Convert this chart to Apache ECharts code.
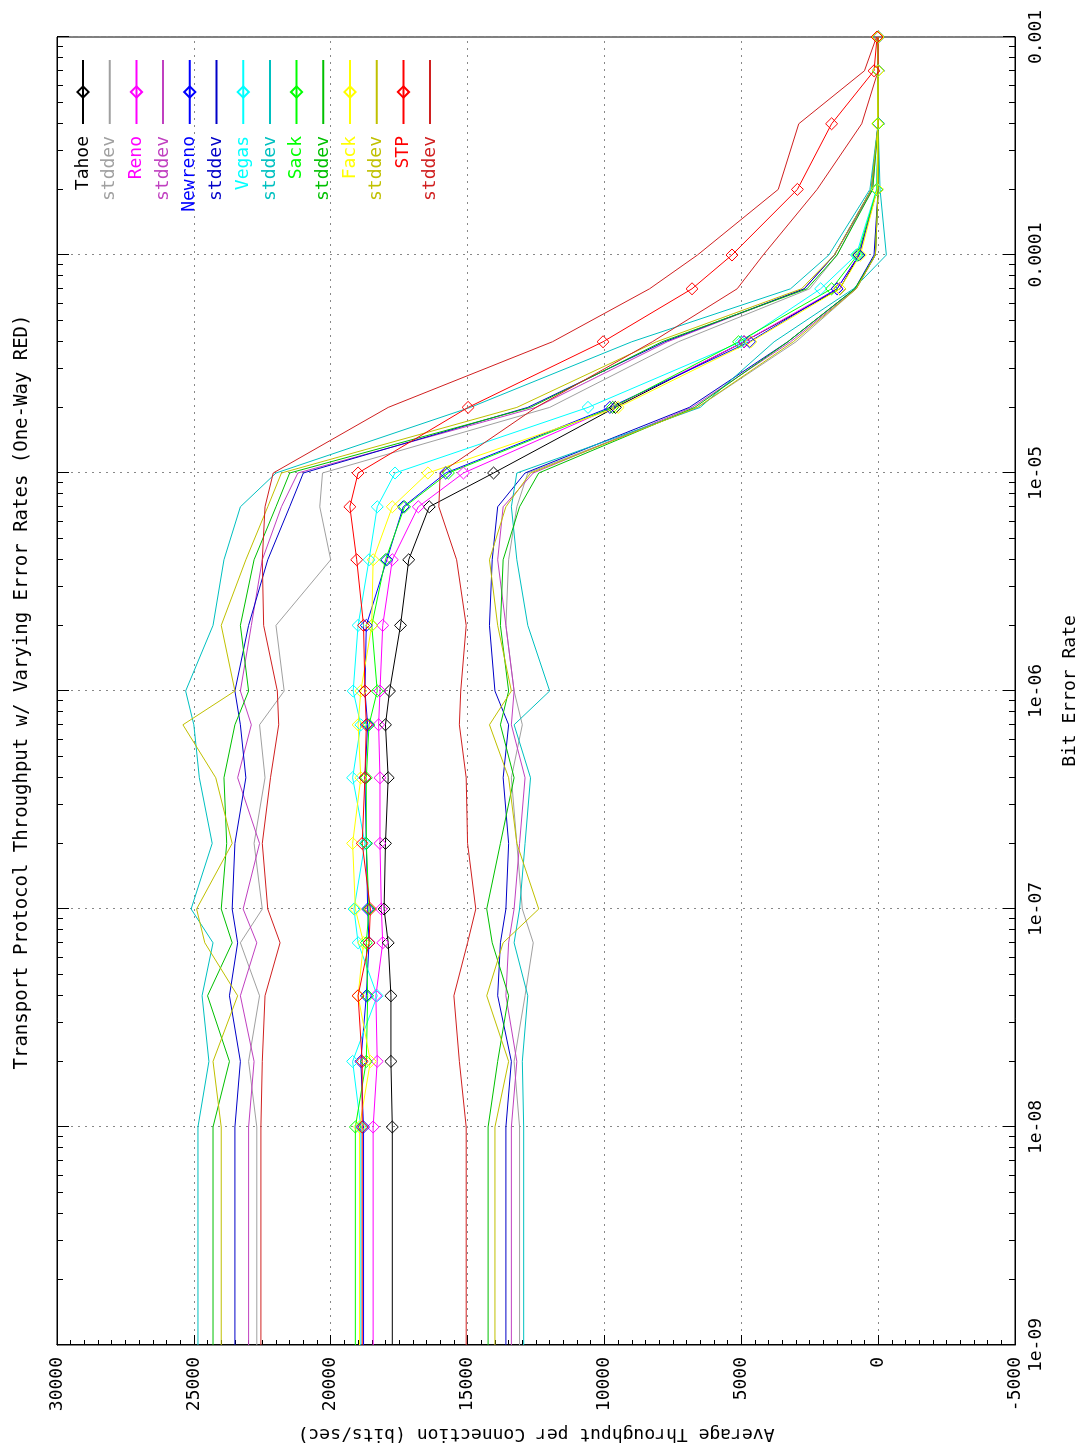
<!DOCTYPE html>
<html><head><meta charset="utf-8">
<script src="https://cdn.jsdelivr.net/npm/echarts@6/dist/echarts.min.js"></script>
<style>
html,body{margin:0;padding:0;background:#fff;width:1088px;height:1452px;overflow:hidden;}
#chart{position:absolute;left:0;top:0;width:1452px;height:1088px;transform-origin:0 0;transform:translate(0,1452px) rotate(-90deg);background:#fff;}
</style></head><body><div id="chart"></div>
<script>
// Bit error rates (x values)
const ber = [1e-9, 1e-8, 2e-8, 4e-8, 7e-8, 1e-7, 2e-7, 4e-7, 7e-7, 1e-6, 2e-6, 4e-6, 7e-6, 1e-5, 2e-5, 4e-5, 7e-5, 1e-4, 2e-4, 4e-4, 7e-4, 1e-3];

// Mean throughput (bits/sec)
const tahoeMean   = [17750,17750,17800,17800,17900,18050,18000,17900,18000,17850,17450,17150,16400,14050,9600,4900,1400,700,40,0,0,0];
const renoMean    = [18450,18450,18300,18350,18100,18150,18200,18200,18250,18200,18100,17750,16800,15150,9700,4900,1500,700,40,0,0,0];
const newrenoMean = [18800,18800,18900,18700,18600,18650,18700,18750,18650,18750,18700,17950,17350,15800,9800,4700,1500,700,40,0,0,0];
const vegasMean   = [18900,18900,19200,18300,19000,19150,18750,19200,18900,19180,19000,18600,18300,17650,10600,5000,2100,800,60,0,0,0];
const sackMean    = [19100,19100,18700,18650,18700,18600,18700,18700,18600,18300,18500,18000,17300,15700,9700,5100,1700,750,40,0,0,0];
const fackMean    = [18950,18950,18550,19000,18800,19100,19200,18900,19000,18900,18500,18450,17750,16450,9500,4650,1400,650,30,20,0,0];
const stpMean     = [18850,18850,18850,19000,18600,18550,18850,18750,18700,18750,18800,19050,19300,19000,14980,10050,6800,5340,2950,1700,150,40];

// Upper stddev curves
const tahoeHi   = [22700,22700,23000,22600,23300,22500,22800,22400,22600,21700,22000,20000,20400,20300,12000,7300,2500,1500,250,0,0,0];
const renoHi    = [23000,23000,22800,23300,22700,23200,22600,23400,22900,23300,22900,22500,21800,21200,12500,7700,2700,1600,200,0,0,0];
const newrenoHi = [23500,23500,23300,23700,23400,23600,23500,23100,23300,23500,23000,22300,21500,21000,12800,7800,2700,1600,250,0,0,0];
const vegasHi   = [24850,24850,24450,24700,24300,25100,24330,24800,25000,25300,24300,23900,23300,22000,14900,9000,3200,1800,300,0,0,0];
const sackHi    = [24300,24300,23700,24500,23600,24000,23800,23900,23500,23000,23300,22800,22000,21500,12700,7900,2600,1500,200,0,0,0];
const fackHi    = [24000,24000,24300,23400,24600,24900,23600,24200,25400,23500,24000,23100,22300,21800,13200,8100,2800,1600,250,0,0,0];
const stpHi     = [22550,22550,22500,22400,21850,22300,22500,22200,21900,21950,22450,22500,22400,22100,17900,11900,8350,6600,3650,2900,500,60];

// Lower stddev curves
const tahoeLo   = [13100,13100,13300,12900,12600,13000,13200,13400,13000,13300,13600,13500,13200,12800,6600,3000,800,100,0,0,0,0];
const renoLo    = [13400,13400,13200,13600,13500,13300,13100,12900,13400,13300,13600,13900,13700,12600,6800,3200,800,100,0,0,0,0];
const newrenoLo = [13600,13600,13400,13900,13800,13600,13500,13700,13500,14000,14200,14100,13900,12900,6900,3300,850,150,0,0,0,0];
const vegasLo   = [12950,12950,13000,12800,13300,13100,12900,12700,13300,12000,12800,13200,13400,13200,6500,3800,900,-300,-70,0,0,0];
const sackLo    = [14250,14250,13900,13500,14100,14300,13800,13300,13800,13500,13800,13700,13100,12400,6700,3300,850,100,0,0,0,0];
const fackLo    = [14000,14000,13500,14300,13700,12400,13200,13500,14200,13400,13900,14200,13600,12700,6600,3100,800,100,0,0,0,0];
const stpLo     = [15050,15050,15300,15500,15000,14700,15000,15050,15300,15250,15050,15400,16050,16000,12500,8250,5150,4200,2230,600,0,0];

// Tick values and labels
const berTicks = [1e-9, 1e-8, 1e-7, 1e-6, 1e-5, 1e-4, 1e-3];
const berTickLabels = ['1e-09','1e-08','1e-07','1e-06','1e-05','0.0001','0.001'];
const berMinorTicks = [2e-9,3e-9,4e-9,5e-9,6e-9,7e-9,8e-9,9e-9,
  2e-8,3e-8,4e-8,5e-8,6e-8,7e-8,8e-8,9e-8,
  2e-7,3e-7,4e-7,5e-7,6e-7,7e-7,8e-7,9e-7,
  2e-6,3e-6,4e-6,5e-6,6e-6,7e-6,8e-6,9e-6,
  2e-5,3e-5,4e-5,5e-5,6e-5,7e-5,8e-5,9e-5,
  2e-4,3e-4,4e-4,5e-4,6e-4,7e-4,8e-4,9e-4];
const thrTicks = [-5000, 0, 5000, 10000, 15000, 20000, 25000, 30000];
const thrTickLabels = ['-5000','0','5000','10000','15000','20000','25000','30000'];

const protocols = [
  {name:'Tahoe',   mean:tahoeMean,   hi:tahoeHi,   lo:tahoeLo,   color:'#000000', sd:'#a0a0a0'},
  {name:'Reno',    mean:renoMean,    hi:renoHi,    lo:renoLo,    color:'#ff00ff', sd:'#c040c0'},
  {name:'Newreno', mean:newrenoMean, hi:newrenoHi, lo:newrenoLo, color:'#0000ff', sd:'#0000c8'},
  {name:'Vegas',   mean:vegasMean,   hi:vegasHi,   lo:vegasLo,   color:'#00ffff', sd:'#00c0c0'},
  {name:'Sack',    mean:sackMean,    hi:sackHi,    lo:sackLo,    color:'#00ff00', sd:'#00c000'},
  {name:'Fack',    mean:fackMean,    hi:fackHi,    lo:fackLo,    color:'#ffff00', sd:'#c0c000'},
  {name:'STP',     mean:stpMean,     hi:stpHi,     lo:stpLo,     color:'#ff0000', sd:'#d02020'}
];

const MONO = 'DejaVu Sans Mono';
const series = [];
const legendData = [];
protocols.forEach(p => {
  series.push({
    type:'line', name:p.name, xAxisIndex:0, yAxisIndex:0,
    data: ber.map((b,i) => i === 0 ? {value:[b, p.mean[i]], symbol:'none'} : [b, p.mean[i]]),
    symbol:'diamond', symbolSize:12, showSymbol:true, showAllSymbol:true,
    lineStyle:{color:p.color, width:1},
    itemStyle:{color:'rgba(255,255,255,0)', borderColor:p.color, borderWidth:1},
    emphasis:{disabled:true}, clip:true, animation:false
  });
  ['hi','lo'].forEach(k => {
    series.push({
      type:'line', name:'stddev#' + p.name, xAxisIndex:0, yAxisIndex:0,
      data: ber.map((b,i) => [b, p[k][i]]),
      symbol:'none',
      lineStyle:{color:p.sd, width:1},
      itemStyle:{color:p.sd},
      emphasis:{disabled:true}, clip:true, animation:false
    });
  });
  legendData.push({name:p.name, textStyle:{color:p.color}});
  legendData.push({name:'stddev#' + p.name, textStyle:{color:p.sd}, itemStyle:{opacity:0}});
});

const gridRect = {left:107, right:37, top:57, bottom:73};
const dotted = {color:'#888888', type:[2,5], width:1};
const labelStyle = {fontFamily:MONO, fontSize:18, color:'#000'};

const option = {
  backgroundColor:'#ffffff',
  animation:false,
  title:{
    text:'Transport Protocol Throughput w/ Varying Error Rates (One-Way RED)',
    left:755, top:8, textAlign:'center',
    textStyle:{fontFamily:MONO, fontSize:19, fontWeight:'normal', color:'#000'}
  },
  legend:{
    orient:'vertical', right:54, top:69, align:'right',
    itemWidth:64, itemHeight:14, itemGap:8.7,
    formatter: n => n.split('#')[0],
    textStyle:{fontFamily:MONO, fontSize:18, lineHeight:14, padding:[0,7,0,0]},
    data:legendData
  },
  grid:[
    Object.assign({show:true, borderColor:'#000', borderWidth:1, backgroundColor:'transparent'}, gridRect),
    Object.assign({show:false}, gridRect)
  ],
  xAxis:[
    {type:'log', logBase:10, gridIndex:0, position:'bottom', min:1e-9, max:1e-3, splitNumber:6,
     axisLine:{show:true, onZero:false, lineStyle:{color:'#000', width:1}},
     axisTick:{show:true, inside:true, length:12, customValues:berTicks, lineStyle:{color:'#000'}},
     axisLabel:{show:true, margin:12, customValues:berTicks,
       formatter: v => berTickLabels[Math.round(Math.log10(v)) + 9], ...labelStyle},
     splitLine:{show:true, lineStyle:dotted},
     name:'Bit Error Rate', nameLocation:'middle', nameGap:46,
     nameTextStyle:{fontFamily:MONO, fontSize:18, color:'#000'}},
    {type:'log', logBase:10, gridIndex:0, position:'top', min:1e-9, max:1e-3, splitNumber:6,
     axisLine:{show:true, onZero:false, lineStyle:{color:'#000', width:1}},
     axisTick:{show:true, inside:true, length:12, customValues:berTicks, lineStyle:{color:'#000'}},
     axisLabel:{show:false}, splitLine:{show:false}},
    {type:'log', logBase:10, gridIndex:1, position:'bottom', min:1e-9, max:1e-3,
     axisLine:{show:false, onZero:false},
     axisTick:{show:true, inside:true, length:6, customValues:berMinorTicks, lineStyle:{color:'#000'}},
     axisLabel:{show:false}, splitLine:{show:false}},
    {type:'log', logBase:10, gridIndex:1, position:'top', min:1e-9, max:1e-3,
     axisLine:{show:false, onZero:false},
     axisTick:{show:true, inside:true, length:6, customValues:berMinorTicks, lineStyle:{color:'#000'}},
     axisLabel:{show:false}, splitLine:{show:false}}
  ],
  yAxis:[
    {type:'value', gridIndex:0, position:'left', min:-5000, max:30000, interval:5000,
     axisLine:{show:true, onZero:false, lineStyle:{color:'#000', width:1}},
     axisTick:{show:true, inside:true, length:10, lineStyle:{color:'#000'}},
     minorTick:{show:true, splitNumber:10, length:5, lineStyle:{color:'#000'}},
     axisLabel:{margin:12, formatter: v => thrTickLabels[thrTicks.indexOf(v)], ...labelStyle},
     splitLine:{show:true, lineStyle:dotted},
     name:'Average Throughput per Connection (bits/sec)', nameLocation:'middle', nameGap:80, nameRotate:90,
     nameTextStyle:{fontFamily:MONO, fontSize:18, color:'#000'}},
    {type:'value', gridIndex:1, min:-5000, max:30000, interval:5000, show:false}
  ],
  series:series
};

const chart = echarts.init(document.getElementById('chart'), null, {renderer:'canvas', width:1452, height:1088});
chart.setOption(option);
</script>
</body></html>
